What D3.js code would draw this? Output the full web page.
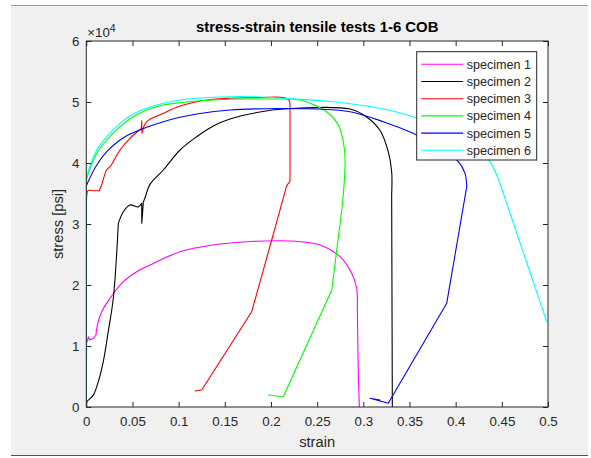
<!DOCTYPE html>
<html>
<head>
<meta charset="utf-8">
<script src="https://cdn.jsdelivr.net/npm/d3@7"></script>
<style>
  html, body { margin: 0; padding: 0; background: #ffffff; }
  svg { display: block; font-family: "Liberation Sans", Arial, Helvetica, sans-serif; }
</style>
</head>
<body>
<svg id="chart" width="591" height="458"></svg>
<script>
// ---------- data (strain, stress in psi) ----------
const seriesNames = ["specimen 1", "specimen 2", "specimen 3", "specimen 4", "specimen 5", "specimen 6"];
const seriesColors = ["#ff00ff", "#000000", "#ff0000", "#00ff00", "#0000ff", "#00ffff"];

const spec1Strain = [0, 0.0003, 0.0015, 0.0022, 0.0035, 0.0076, 0.0105, 0.0113, 0.0167, 0.0257, 0.0401, 0.0546, 0.0690, 0.1015, 0.1370, 0.1737, 0.2098, 0.2315, 0.2530, 0.2747, 0.2874, 0.2928, 0.2935, 0.2946, 0.2957];
const spec1Stress = [0, 10500, 11000, 11500, 11000, 11262, 11803, 12902, 15623, 17820, 20541, 22180, 23279, 25459, 26557, 27098, 27262, 27098, 26557, 24639, 21918, 19459, 16443, 5574, 0];
const spec1Kinks = [1, 3, 4, 6, 22];

const spec2Strain = [0, 0.0004, 0.0076, 0.0130, 0.0184, 0.0238, 0.0293, 0.0347, 0.0401, 0.0473, 0.0563, 0.0600, 0.0601, 0.0618, 0.0636, 0.0690, 0.0834, 0.1015, 0.1196, 0.1375, 0.1556, 0.1880, 0.2133, 0.2856, 0.3036, 0.3180, 0.3270, 0.3307, 0.3307, 0.3314, 0.3314];
const spec2Stress = [0, 800, 1950, 4150, 7450, 12400, 17900, 30100, 32016, 33115, 32800, 33393, 30115, 33600, 34300, 36500, 38852, 42131, 44311, 46066, 47213, 48360, 48852, 48852, 47541, 45361, 41852, 38574, 34754, 1148, 0];
const spec2Kinks = [7, 11, 12, 13, 28, 29];

const spec3Strain = [0, 0.0002, 0.0012, 0.0022, 0.0076, 0.0141, 0.0166, 0.0221, 0.0257, 0.0365, 0.0473, 0.0596, 0.0600, 0.0603, 0.0654, 0.0834, 0.1015, 0.1196, 0.1375, 0.1556, 0.1880, 0.2150, 0.2195, 0.2206, 0.2206, 0.2170, 0.2008, 0.1791, 0.1250, 0.1177];
const spec3Stress = [0, 33900, 35300, 35500, 35450, 35450, 36400, 38900, 39393, 42131, 44049, 45656, 46900, 44900, 46770, 48147, 49344, 50049, 50443, 50607, 50738, 50700, 50300, 49000, 37000, 36300, 27377, 15623, 2787, 2623];
const spec3Kinks = [1, 5, 11, 12, 13, 23, 24, 25, 27, 28];

const spec4Strain = [0, 0.0002, 0.0022, 0.0113, 0.0221, 0.0365, 0.0509, 0.0654, 0.0834, 0.1015, 0.1196, 0.1556, 0.1990, 0.2314, 0.2423, 0.2603, 0.2729, 0.2783, 0.2802, 0.2783, 0.2712, 0.2658, 0.2133, 0.1971];
const spec4Stress = [0, 37213, 38311, 41590, 43770, 45951, 47590, 48689, 49508, 49885, 50164, 50443, 50492, 50328, 49787, 48410, 46230, 43492, 40770, 34754, 25738, 19180, 1689, 1967];
const spec4Kinks = [1, 21, 22];

const spec5Strain = [0, 0, 0.0004, 0.0113, 0.0221, 0.0365, 0.0473, 0.0654, 0.0834, 0.1015, 0.1196, 0.1556, 0.2098, 0.2495, 0.2856, 0.3216, 0.3578, 0.3797, 0.3938, 0.4029, 0.4101, 0.4120, 0.3903, 0.3270, 0.3072, 0.3180];
const spec5Stress = [0, 36230, 36393, 39672, 41852, 43770, 44754, 45852, 46770, 47492, 48033, 48689, 48934, 48852, 48410, 46770, 44590, 42590, 41311, 40213, 38311, 36115, 17000, 607, 1426, 1148];
const spec5Kinks = [1, 21, 22, 23, 24];

const spec6Strain = [0, 0, 0.0004, 0.0113, 0.0221, 0.0365, 0.0509, 0.0654, 0.0834, 0.1015, 0.1196, 0.1556, 0.1773, 0.2133, 0.2675, 0.3216, 0.3578, 0.3829, 0.4100, 0.4285, 0.4371, 0.4479, 0.4986];
const spec6Stress = [0, 37213, 37754, 42131, 44311, 46508, 48033, 48967, 49787, 50328, 50607, 50869, 50869, 50607, 50049, 48852, 47328, 45246, 42950, 41311, 40213, 36672, 13984];
const spec6Kinks = [1, 21];

const xTicks = [0, 0.05, 0.1, 0.15, 0.2, 0.25, 0.3, 0.35, 0.4, 0.45, 0.5];
const xTickLabels = ["0", "0.05", "0.1", "0.15", "0.2", "0.25", "0.3", "0.35", "0.4", "0.45", "0.5"];
const yTicks = [0, 10000, 20000, 30000, 40000, 50000, 60000];
const yTickLabels = ["0", "1", "2", "3", "4", "5", "6"];

const titleText = "stress-strain tensile tests 1-6 COB";
const xLabelText = "strain";
const yLabelText = "stress [psi]";

// ---------- build ----------
const strains = [spec1Strain, spec2Strain, spec3Strain, spec4Strain, spec5Strain, spec6Strain];
const stresses = [spec1Stress, spec2Stress, spec3Stress, spec4Stress, spec5Stress, spec6Stress];
const kinks = [spec1Kinks, spec2Kinks, spec3Kinks, spec4Kinks, spec5Kinks, spec6Kinks];
const series = seriesNames.map((name, i) => ({
  name, color: seriesColors[i], kinks: kinks[i],
  points: strains[i].map((s, j) => [s, stresses[i][j]])
}));

const svg = d3.select("#chart");
const plot = { left: 86.3, right: 548, top: 41, bottom: 407 };
const axisColor = "#262626";

// figure background
svg.append("rect").attr("x", 11).attr("y", 5).attr("width", 577).attr("height", 450).attr("fill", "#f0f0f0");
svg.append("line").attr("x1", 11).attr("x2", 588).attr("y1", 5.5).attr("y2", 5.5).attr("stroke", "#a0a0a0").attr("stroke-width", 1);
svg.append("line").attr("x1", 11).attr("x2", 588).attr("y1", 455.5).attr("y2", 455.5).attr("stroke", "#505050").attr("stroke-width", 1.2);

const x = d3.scaleLinear().domain([0, 0.5]).range([plot.left, plot.right]);
const y = d3.scaleLinear().domain([0, 60000]).range([plot.bottom, plot.top]);

svg.append("rect").attr("x", plot.left).attr("y", plot.top)
  .attr("width", plot.right - plot.left).attr("height", plot.bottom - plot.top).attr("fill", "#ffffff");

svg.append("clipPath").attr("id", "clip").append("rect")
  .attr("x", plot.left).attr("y", plot.top).attr("width", plot.right - plot.left).attr("height", plot.bottom - plot.top);

// lines: smooth between kinks, sharp corners at kinks
const line = d3.line().x(d => x(d[0])).y(d => y(d[1])).curve(d3.curveCatmullRom.alpha(0.5));
function piecewisePath(points, kinkIdx) {
  const cuts = [0, ...kinkIdx, points.length - 1];
  let d = "";
  for (let k = 0; k < cuts.length - 1; k++) {
    const piece = points.slice(cuts[k], cuts[k + 1] + 1);
    if (piece.length >= 2) d += line(piece);
  }
  return d;
}
const g = svg.append("g").attr("clip-path", "url(#clip)");
series.forEach(s => {
  g.append("path").attr("d", piecewisePath(s.points, s.kinks))
    .attr("fill", "none").attr("stroke", s.color).attr("stroke-width", 1.1)
    .attr("stroke-linejoin", "round").attr("stroke-linecap", "round");
});

// axes
const fmtX = (d, i) => xTickLabels[i];
const fmtY = (d, i) => yTickLabels[i];
const tickLen = 5;
function styleAxis(sel) {
  sel.select(".domain").remove();
  sel.selectAll(".tick line").attr("stroke", axisColor).attr("stroke-width", 1);
  sel.selectAll("text").attr("fill", axisColor).style("font-size", "13.3px")
    .style("font-family", '"Liberation Sans", Arial, sans-serif');
}
svg.append("g").attr("transform", `translate(0,${plot.bottom})`)
  .call(d3.axisBottom(x).tickValues(xTicks).tickFormat(fmtX).tickSizeInner(-tickLen).tickSizeOuter(0).tickPadding(10))
  .call(styleAxis);
svg.append("g").attr("transform", `translate(0,${plot.top})`)
  .call(d3.axisTop(x).tickValues(xTicks).tickFormat("").tickSizeInner(-tickLen).tickSizeOuter(0))
  .call(styleAxis);
svg.append("g").attr("transform", `translate(${plot.left},0)`)
  .call(d3.axisLeft(y).tickValues(yTicks).tickFormat(fmtY).tickSizeInner(-tickLen).tickSizeOuter(0).tickPadding(7))
  .call(styleAxis);
svg.append("g").attr("transform", `translate(${plot.right},0)`)
  .call(d3.axisRight(y).tickValues(yTicks).tickFormat("").tickSizeInner(-tickLen).tickSizeOuter(0))
  .call(styleAxis);

// box
svg.append("rect").attr("x", plot.left).attr("y", plot.top)
  .attr("width", plot.right - plot.left).attr("height", plot.bottom - plot.top)
  .attr("fill", "none").attr("stroke", axisColor).attr("stroke-width", 1);

// exponent label
const expT = svg.append("text").attr("x", plot.left + 1).attr("y", 37)
  .attr("fill", axisColor).style("font-size", "13.3px");
expT.append("tspan").text("\u00d710");
expT.append("tspan").attr("dy", -5).style("font-size", "10.5px").text("4");

// title
svg.append("text").attr("x", (plot.left + plot.right) / 2).attr("y", 32)
  .attr("text-anchor", "middle").attr("fill", "#000").style("font-size", "14.9px").style("font-weight", "bold")
  .text(titleText);

// axis labels
svg.append("text").attr("x", (plot.left + plot.right) / 2).attr("y", 447)
  .attr("text-anchor", "middle").attr("fill", axisColor).style("font-size", "14.7px").text(xLabelText);
svg.append("text").attr("transform", `translate(63,${(plot.top + plot.bottom) / 2}) rotate(-90)`)
  .attr("text-anchor", "middle").attr("fill", axisColor).style("font-size", "14.7px").text(yLabelText);

// legend
const leg = { x: 416.7, y: 51.7, w: 120, h: 108.3 };
svg.append("rect").attr("x", leg.x).attr("y", leg.y).attr("width", leg.w).attr("height", leg.h)
  .attr("fill", "#ffffff").attr("stroke", axisColor).attr("stroke-width", 1);
const rowY = d3.scalePoint().domain(seriesNames).range([64.3, 150.3]);
series.forEach(s => {
  const ry = rowY(s.name);
  svg.append("line").attr("x1", leg.x + 4.5).attr("x2", leg.x + 46.5).attr("y1", ry).attr("y2", ry)
    .attr("stroke", s.color).attr("stroke-width", 1.1);
  svg.append("text").attr("x", leg.x + 50).attr("y", ry + 4.5)
    .attr("fill", axisColor).style("font-size", "12.6px").text(s.name);
});
</script>
</body>
</html>
